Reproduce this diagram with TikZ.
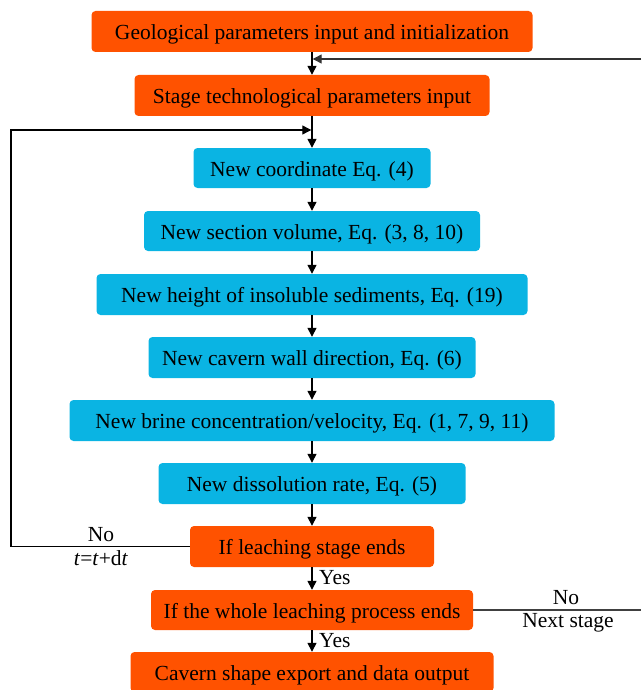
\documentclass[tikz,border=0pt]{standalone}
\usepackage{fontspec}
\setmainfont{Liberation Serif}
\usetikzlibrary{arrows.meta}
\definecolor{orng}{HTML}{FF5200}
\definecolor{cyn}{HTML}{0AB4E3}
\tikzset{
  bx/.style={rounded corners=4pt, inner sep=0pt, text height=19pt, text depth=3pt, font=\fontsize{21.5}{24}\selectfont},
  obox/.style={bx, fill=orng},
  cbox/.style={bx, fill=cyn},
  flow/.style={line width=1.4pt, -{Triangle[length=9pt,width=9pt]}},
  loopline/.style={line width=1.2pt},
  lbl/.style={font=\fontsize{21.5}{24}\selectfont, inner sep=0pt}
}
\begin{document}
\begin{tikzpicture}[x=1pt,y=1pt]
\useasboundingbox[clip] (0,0) rectangle (641,-690);
\node[obox, minimum width=441pt, minimum height=41pt] (b1) at (312,-31.5) {Geological parameters input and initialization};
\node[obox, minimum width=355pt, minimum height=41pt] (b2) at (312,-95.5) {Stage technological parameters input};
\node[cbox, minimum width=237pt, minimum height=40pt] (b3) at (312,-168) {New coordinate Eq. (4)};
\node[cbox, minimum width=336pt, minimum height=40pt] (b4) at (312,-231) {New section volume, Eq. (3, 8, 10)};
\node[cbox, minimum width=431pt, minimum height=41pt] (b5) at (312,-294.5) {New height of insoluble sediments, Eq. (19)};
\node[cbox, minimum width=327pt, minimum height=41pt] (b6) at (312,-357.5) {New cavern wall direction, Eq. (6)};
\node[cbox, minimum width=485pt, minimum height=41pt] (b7) at (312,-420.5) {New brine concentration/velocity, Eq. (1, 7, 9, 11)};
\node[cbox, minimum width=307pt, minimum height=41pt] (b8) at (312,-483.5) {New dissolution rate, Eq. (5)};
\node[obox, minimum width=244pt, minimum height=41pt] (b9) at (312,-546.5) {If leaching stage ends};
\node[obox, minimum width=322pt, minimum height=40pt] (b10) at (312,-610) {If the whole leaching process ends};
\node[obox, minimum width=363pt, minimum height=40pt] (b11) at (312,-672) {Cavern shape export and data output};

\coordinate (rin) at (641,-59);
\coordinate (j1) at (312,-59);
\coordinate (lt) at (11,-130);
\coordinate (lb) at (11,-546.5);
\coordinate (j2) at (312,-130);
\coordinate (rout) at (641,-610);

\draw[flow] (b1) -- (b2);
\draw[flow] (b2) -- (b3);
\draw[flow] (b3) -- (b4);
\draw[flow] (b4) -- (b5);
\draw[flow] (b5) -- (b6);
\draw[flow] (b6) -- (b7);
\draw[flow] (b7) -- (b8);
\draw[flow] (b8) -- (b9);
\draw[flow] (b9) -- (b10);
\draw[flow] (b10) -- (b11);

\draw[line width=1.2pt, black!80, -{Triangle[length=9pt,width=9pt]}] (rin) -- ([xshift=0.7pt]j1);
\draw[loopline, -{Triangle[length=9pt,width=9pt]}] (b9.west) -- (lb) -- (lt) -- ([xshift=-0.7pt]j2);
\draw[line width=1.2pt, black!75] (b10.east) -- (rout);

\node[lbl, anchor=south] (no1) at (101,-542) {No};
\node[lbl, anchor=north] (tt) at (101,-550) {\textit{t}=\textit{t}+d\textit{t}};
\node[lbl, anchor=west] (yes1) at (319,-578) {Yes};
\node[lbl, anchor=west] (yes2) at (319,-641) {Yes};
\node[lbl, anchor=south] (no2) at (566,-605) {No};
\node[lbl, anchor=north] (ns) at (568,-613) {Next stage};
\end{tikzpicture}
\end{document}
